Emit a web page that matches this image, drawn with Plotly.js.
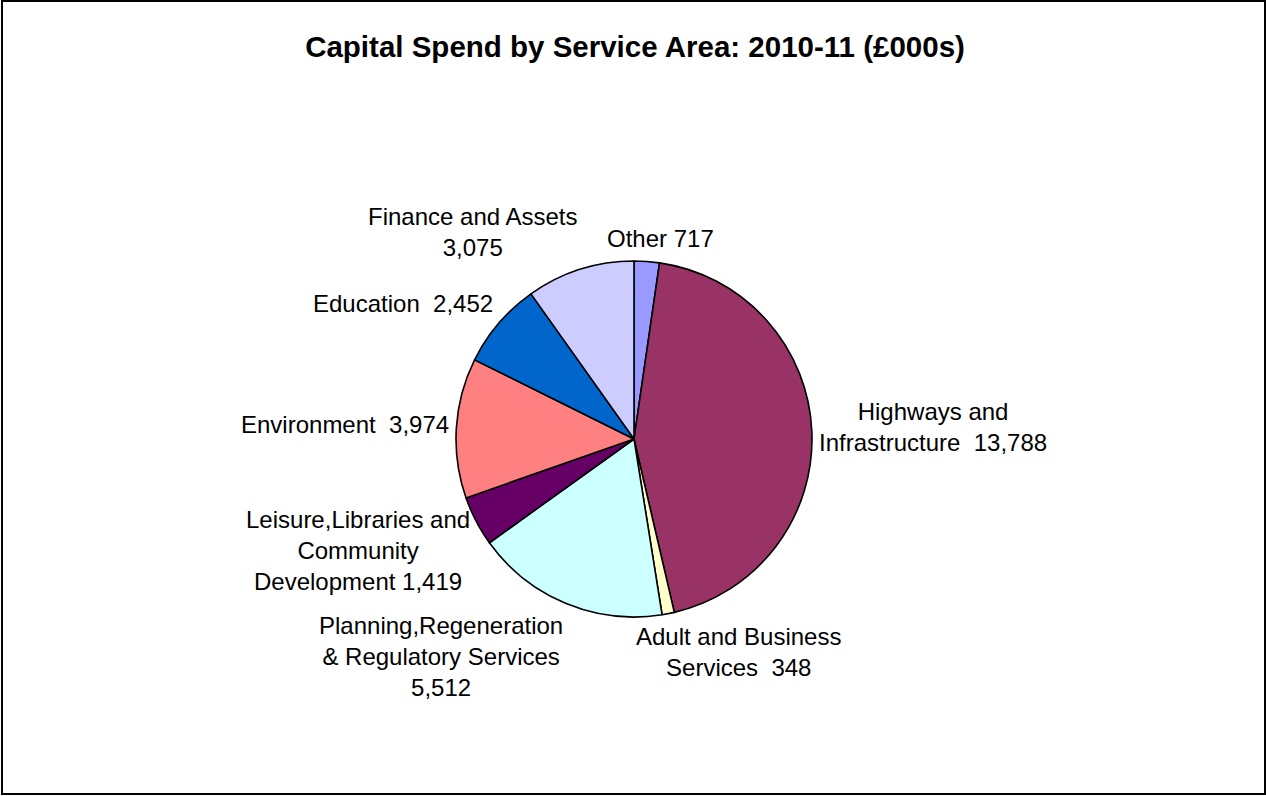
<!DOCTYPE html>
<html>
<head>
<meta charset="utf-8">
<script src="https://cdn.plot.ly/plotly-3.0.1.min.js"></script>
<style>html,body{margin:0;padding:0;background:#fff;}#chart{width:1266px;height:796px;}</style>
</head>
<body>
<div id="chart"></div>
<script>
const categories = [
  "Other",
  "Highways and<br>Infrastructure",
  "Adult and Business<br>Services",
  "Planning,Regeneration<br>& Regulatory Services",
  "Leisure,Libraries and<br>Community<br>Development",
  "Environment",
  "Education",
  "Finance and Assets"
];
const values = [717, 13788, 348, 5512, 1419, 3974, 2452, 3075];
const separators = [" ", "\u00a0 ", "\u00a0 ", "<br>", " ", "\u00a0 ", "\u00a0 ", "<br>"];
const colors = ["#9999FF", "#993366", "#FFFFCC", "#CCFFFF", "#660066", "#FF8080", "#0066CC", "#CCCCFF"];

const fmt = v => v.toLocaleString("en-GB");
const labelText = categories.map((c, i) => c + separators[i] + fmt(values[i]));

const W = 1266, H = 796;
const cx = 634, cy = 439, R = 178;
const FONT = "Liberation Sans, Arial, sans-serif";
const FS = 24, LINE_H = FS * 1.3;
const LABEL_R = R + 7, GAIN = 3.5, GAP = 12;

// measure label text boxes
const ctx = document.createElement("canvas").getContext("2d");
ctx.font = FS + "px 'Liberation Sans', Arial, sans-serif";
const clamp = v => Math.max(-1, Math.min(1, v));
const total = values.reduce((a, b) => a + b, 0);

let cum = 0;
const boxes = labelText.map((t, i) => {
  const mid = (cum + values[i] / 2) / total * 2 * Math.PI;
  cum += values[i];
  const dx = Math.sin(mid), dy = -Math.cos(mid); // screen coords, y down
  const lines = t.split("<br>");
  const w = Math.max(...lines.map(l => ctx.measureText(l).width));
  const h = lines.length * LINE_H;
  const px = cx + LABEL_R * dx + clamp(GAIN * dx) * w / 2;
  const py = cy + LABEL_R * dy + clamp(GAIN * dy) * h / 2;
  return { t, dx, dy, w, h, px, py };
});

// resolve overlaps: move the label nearer the horizontal axis vertically away
for (let i = 0; i < boxes.length; i++) {
  for (let j = 0; j < boxes.length; j++) {
    if (i === j) continue;
    const a = boxes[i], b = boxes[j];
    const ox = Math.min(a.px + a.w / 2, b.px + b.w / 2) - Math.max(a.px - a.w / 2, b.px - b.w / 2);
    const oy = Math.min(a.py + a.h / 2, b.py + b.h / 2) - Math.max(a.py - a.h / 2, b.py - b.h / 2);
    if (ox > 0 && oy > 0 && Math.abs(a.dy) < Math.abs(b.dy)) {
      const s = a.py < b.py ? -1 : 1;
      a.py += s * (oy + GAP);
    }
  }
}

const annotations = boxes.map(b => ({
  xref: "paper", yref: "paper",
  x: b.px / W, y: 1 - b.py / H,
  xanchor: "center", yanchor: "middle",
  text: b.t, showarrow: false, align: "center",
  font: { family: FONT, size: FS, color: "#000000" }
}));

const trace = {
  type: "pie",
  labels: categories,
  values: values,
  textinfo: "none",
  sort: false,
  direction: "clockwise",
  rotation: 0,
  hole: 0,
  marker: { colors: colors, line: { color: "#000000", width: 1.6 } },
  domain: { x: [(cx - R) / W, (cx + R) / W], y: [(H - cy - R) / H, (H - cy + R) / H] },
  showlegend: false,
  hoverinfo: "label+value"
};

const layout = {
  width: W, height: H,
  margin: { l: 0, r: 0, t: 0, b: 0 },
  paper_bgcolor: "#ffffff",
  title: {
    text: "<b>Capital Spend by Service Area: 2010-11 (£000s)</b>",
    font: { family: FONT, size: 29.5, color: "#000000" },
    x: 635 / W, xanchor: "center",
    y: 1 - 47 / H, yanchor: "middle"
  },
  annotations: annotations,
  shapes: [{
    type: "rect", xref: "paper", yref: "paper",
    x0: 2 / W, x1: 1265 / W, y0: 2 / H, y1: 795 / H,
    line: { color: "#000000", width: 2 }
  }]
};

Plotly.newPlot("chart", [trace], layout, { staticPlot: true });
</script>
</body>
</html>
